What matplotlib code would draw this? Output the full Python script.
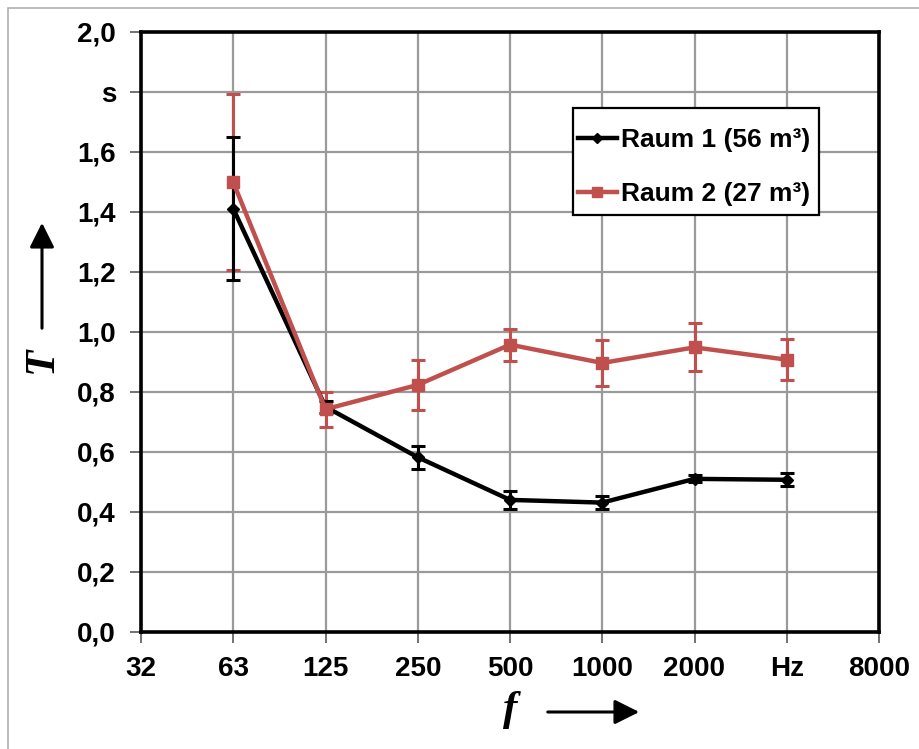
import matplotlib
matplotlib.use("Agg")
import matplotlib.pyplot as plt
from matplotlib.patches import Rectangle, FancyArrowPatch

# Octave band centres (category axis) and their tick labels
bands = ["32", "63", "125", "250", "500", "1000", "2000", "Hz", "8000"]
measured_bands = ["63", "125", "250", "500", "1000", "2000", "Hz"]

# Reverberation time T in s, with spread
raum1_T = [1.41, 0.75, 0.582, 0.44, 0.431, 0.51, 0.507]
raum1_err = [0.237, 0.02, 0.038, 0.03, 0.021, 0.012, 0.022]
raum2_T = [1.498, 0.742, 0.823, 0.957, 0.896, 0.948, 0.907]
raum2_err = [0.293, 0.058, 0.083, 0.053, 0.078, 0.080, 0.068]

y_ticks = [0.0, 0.2, 0.4, 0.6, 0.8, 1.0, 1.2, 1.4, 1.6, 1.8, 2.0]
y_labels = ["0,0", "0,2", "0,4", "0,6", "0,8", "1,0", "1,2", "1,4", "1,6", "s", "2,0"]

RED = "#C0504D"
GRID = "#9a9a9a"

plt.rcParams["font.family"] = ["Liberation Sans", "DejaVu Sans"]
plt.rcParams["font.weight"] = "bold"

W, H = 920, 749
fig = plt.figure(figsize=(W / 100, H / 100), dpi=100)
ax = fig.add_axes([141 / W, 1 - 632 / H, (879 - 141) / W, (632 - 31.5) / H])

xpos = {b: i for i, b in enumerate(bands)}
xm = [xpos[b] for b in measured_bands]

# error bars underneath the curves
ax.errorbar(xm, raum2_T, yerr=raum2_err, fmt="none", ecolor=RED,
            elinewidth=2.2, capsize=5, capthick=2.2, zorder=2)
ax.errorbar(xm, raum1_T, yerr=raum1_err, fmt="none", ecolor="black",
            elinewidth=2.2, capsize=5, capthick=2.2, zorder=2)

ax.plot(xm, raum1_T, color="black", lw=3.2, marker="D", ms=6.5,
        label="Raum 1 (56 m³)", zorder=3)
ax.plot(xm, raum2_T, color=RED, lw=3.2, marker="s", ms=9,
        label="Raum 2 (27 m³)", zorder=4)

ax.set_xlim(0, len(bands) - 1)
ax.set_ylim(0, 2.0)
ax.set_xticks(range(len(bands)))
ax.set_xticklabels(bands, fontsize=20, fontweight="bold")
ax.set_yticks(y_ticks)
ax.set_yticklabels(y_labels, fontsize=20, fontweight="bold")

ax.grid(True, color=GRID, lw=1.6, zorder=0)
ax.set_axisbelow(True)
for s in ax.spines.values():
    s.set_linewidth(2.6)
    s.set_color("black")
ax.tick_params(axis="both", direction="out", length=8, width=1.3,
               color="#666666")
ax.tick_params(axis="y", pad=10)
ax.tick_params(axis="x", pad=9)

# legend text and handles, with a plain black box around them
leg = ax.legend(loc="center", bbox_to_anchor=(694 / W, 1 - 167 / H),
                bbox_transform=fig.transFigure, fontsize=19, frameon=False,
                handlelength=1.5, handletextpad=0.15, borderpad=0.0,
                labelspacing=1.15, borderaxespad=0, markerscale=0.8)
fig.add_artist(Rectangle((573 / W, 1 - 215 / H), (819 - 573) / W, 107 / H,
                         transform=fig.transFigure, fill=True,
                         facecolor="white", edgecolor="black", lw=1.6,
                         zorder=5))
leg.set_zorder(6)
fig.add_artist(leg)

# axis quantity symbols with arrows
serif = ["Liberation Serif", "DejaVu Serif"]
fig.text(42 / W, 1 - 360 / H, "T", rotation=90, ha="center", va="center",
         fontsize=31, fontstyle="italic", fontweight="bold", family=serif)
fig.add_artist(FancyArrowPatch(
    (42 / W, 1 - 331 / H), (42 / W, 1 - 220 / H), transform=fig.transFigure,
    arrowstyle="-|>,head_length=10,head_width=5", lw=2.2, color="black",
    mutation_scale=1.5))
fig.text(510 / W, 1 - 710 / H, "f", ha="center", va="center",
         fontsize=31, fontstyle="italic", fontweight="bold", family=serif)
fig.add_artist(FancyArrowPatch(
    (545 / W, 1 - 712 / H), (642 / W, 1 - 712 / H), transform=fig.transFigure,
    arrowstyle="-|>,head_length=10,head_width=5", lw=2.2, color="black",
    mutation_scale=1.5))

# outer frame of the figure
fig.add_artist(Rectangle((8 / W, -0.05), 1.2, 1 - 8 / H + 0.05,
                         transform=fig.transFigure, fill=False,
                         edgecolor="#b0b0b0", lw=1.2))

fig.savefig("out.png", dpi=100)
